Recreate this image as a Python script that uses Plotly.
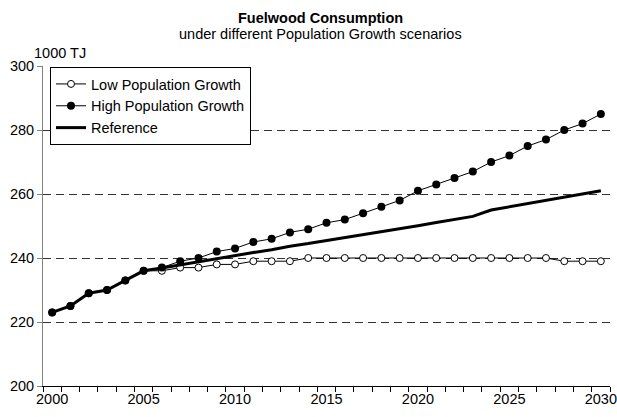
import plotly.graph_objects as go

years = list(range(2000, 2031))
low_growth = [223, 225, 229, 230, 233, 236, 236, 237, 237, 238, 238, 239, 239, 239, 240,
              240, 240, 240, 240, 240, 240, 240, 240, 240, 240, 240, 240, 240, 239, 239, 239]
high_growth = [223, 225, 229, 230, 233, 236, 237, 239, 240, 242, 243, 245, 246, 248, 249,
               251, 252, 254, 256, 258, 261, 263, 265, 267, 270, 272, 275, 277, 280, 282, 285]
reference = [223, 225, 229, 230, 233, 236, 236.9, 237.9, 238.8, 239.8, 240.7, 241.7, 242.6,
             243.7, 244.5, 245.4, 246.4, 247.3, 248.3, 249.2, 250.1, 251.1, 252.0, 253.0,
             255.0, 256.0, 257.0, 258.0, 259.0, 260.0, 261.0]
x_tick_labels = [2000, 2005, 2010, 2015, 2020, 2025, 2030]
y_ticks = [200, 220, 240, 260, 280, 300]

FONT = "Liberation Sans, Arial, sans-serif"
FS = 14.5

fig = go.Figure()
fig.add_trace(go.Scatter(
    x=years, y=low_growth, name="Low Population Growth", mode="lines+markers",
    line=dict(color="black", width=1),
    marker=dict(symbol="circle", size=7, color="white", line=dict(color="black", width=1)),
    cliponaxis=False))
fig.add_trace(go.Scatter(
    x=years, y=high_growth, name="High Population Growth", mode="lines+markers",
    line=dict(color="black", width=1),
    marker=dict(symbol="circle", size=8, color="black"),
    cliponaxis=False))
fig.add_trace(go.Scatter(
    x=years, y=reference, name="Reference", mode="lines",
    line=dict(color="black", width=3),
    cliponaxis=False))

L, R, T, B = 43, 7, 66, 31
W, H = 617, 417
pw, ph = W - L - R, H - T - B

fig.update_layout(
    width=W, height=H, autosize=False,
    margin=dict(l=L, r=R, t=T, b=B, pad=0, autoexpand=False),
    paper_bgcolor="white", plot_bgcolor="white",
    font=dict(family=FONT, size=FS, color="black"),
    showlegend=True,
    legend=dict(x=(50 - L) / pw, y=1 - 1 / ph, xanchor="left", yanchor="top",
                bgcolor="white", bordercolor="black", borderwidth=1,
                font=dict(family=FONT, size=FS, color="black")),
    xaxis=dict(range=[1999.5, 2030.5], tickmode="array", tickvals=x_tick_labels,
               ticktext=[str(v) for v in x_tick_labels], ticks="", automargin=False,
               showline=True, linecolor="black", linewidth=1, showgrid=False, zeroline=False,
               minor=dict(ticks="outside", tick0=1999.5, dtick=1, ticklen=5,
                          tickcolor="black", showgrid=False),
               tickfont=dict(size=FS)),
    yaxis=dict(range=[200, 300], tickmode="array", tickvals=y_ticks, ticks="outside",
               ticklen=5, tickcolor="gray", showline=True, linecolor="gray", linewidth=1,
               automargin=False,
               showgrid=True, gridcolor="#333333", griddash="8px,5px", gridwidth=1,
               zeroline=False, tickfont=dict(size=FS)),
    annotations=[
        dict(text="<b>Fuelwood Consumption</b>", xref="paper", yref="paper",
             x=(320 - L) / pw, y=(H - B - 18) / ph, xanchor="center", yanchor="middle",
             showarrow=False, font=dict(size=FS)),
        dict(text="under different Population Growth scenarios", xref="paper", yref="paper",
             x=(320 - L) / pw, y=(H - B - 34) / ph, xanchor="center", yanchor="middle",
             showarrow=False, font=dict(size=FS)),
        dict(text="1000 TJ", xref="paper", yref="paper",
             x=(60 - L) / pw, y=(H - B - 53) / ph, xanchor="center", yanchor="middle",
             showarrow=False, font=dict(size=FS)),
    ],
)

fig.write_html(
    "out.html",
    config={"displayModeBar": False},
    post_script="document.body.style.margin='0';document.body.style.overflow='hidden';",
)
